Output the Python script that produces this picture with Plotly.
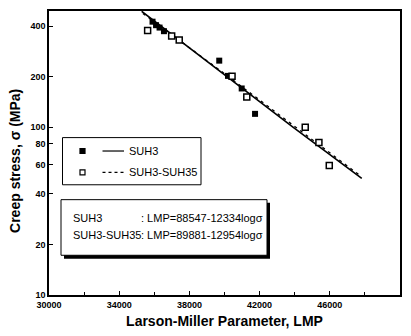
import plotly.graph_objects as go

# Creep rupture data, SUH3 base metal and SUH3-SUH35 joint
suh3_lmp = [35900, 36100, 36300, 36550, 39700, 40200, 40980, 41740]
suh3_stress = [425, 405, 392, 373, 249, 202, 170, 120]

joint_lmp = [35620, 36990, 37420, 40430, 41270, 44600, 45380, 45970]
joint_stress = [376, 349, 331, 201, 151, 100, 81, 59]

# Master curves (fitted)
fit_suh3_lmp = [35280, 40150, 43900, 47820]
fit_suh3_stress = [490, 200, 100, 49.5]
fit_joint_lmp = [35350, 40200, 44000, 47720]
fit_joint_stress = [476, 201, 101, 51.5]

x_ticks = [30000, 34000, 38000, 42000, 46000, 50000]
y_ticks = [10, 20, 40, 60, 80, 100, 200, 400]

legend_names = ["SUH3", "SUH3-SUH35"]
eq_names = ["SUH3", "SUH3-SUH35"]
eq_texts = [": LMP=88547-12334log\u03c3", ": LMP=89881-12954log\u03c3"]

NARROW = "Liberation Sans Narrow, Arial Narrow, sans-serif"
SANS = "Liberation Sans, Arial, sans-serif"

fig = go.Figure()
fig.add_trace(go.Scatter(x=fit_suh3_lmp, y=fit_suh3_stress, mode="lines",
                         line=dict(color="black", width=1.6), showlegend=False))
fig.add_trace(go.Scatter(x=fit_joint_lmp, y=fit_joint_stress, mode="lines",
                         line=dict(color="black", width=1.3, dash="3px,4px"),
                         showlegend=False))
fig.add_trace(go.Scatter(x=suh3_lmp, y=suh3_stress, mode="markers",
                         marker=dict(symbol="square", size=6, color="black"),
                         showlegend=False))
fig.add_trace(go.Scatter(x=joint_lmp, y=joint_stress, mode="markers",
                         marker=dict(symbol="square", size=6, color="white",
                                     line=dict(color="black", width=1.5)),
                         showlegend=False))

# Plot-area pixel geometry helpers for the boxed legend and equations
L, R, T, B = 49, 400, 9, 295
W, H = R - L, B - T


def px(x):
    return (x - L) / W


def py(y):
    return (B - y) / H


shapes = []
# legend box
shapes.append(dict(type="rect", xref="paper", yref="paper",
                   x0=px(62.5), x1=px(201), y0=py(184), y1=py(136.5),
                   line=dict(color="black", width=1), fillcolor="white"))
rows = [150, 171.5]
for i, yy in enumerate(rows):
    filled = i == 0
    shapes.append(dict(type="rect", xref="paper", yref="paper",
                       x0=px(80), x1=px(85), y0=py(yy + 2.5), y1=py(yy - 2.5),
                       line=dict(color="black", width=1.2),
                       fillcolor="black" if filled else "white"))
    shapes.append(dict(type="line", xref="paper", yref="paper",
                       x0=px(102.5), x1=px(124), y0=py(yy), y1=py(yy),
                       line=dict(color="black", width=1.2,
                                 dash="solid" if filled else "3px,3px")))
# equation box with drop shadow
shapes.append(dict(type="rect", xref="paper", yref="paper",
                   x0=px(64), x1=px(270), y0=py(258.5), y1=py(202),
                   line=dict(width=0), fillcolor="black"))
shapes.append(dict(type="rect", xref="paper", yref="paper",
                   x0=px(61), x1=px(267), y0=py(255), y1=py(199),
                   line=dict(color="black", width=1), fillcolor="white"))

annotations = []
for name, yy in zip(legend_names, rows):
    annotations.append(dict(x=px(126.5), y=py(yy), xref="paper", yref="paper",
                            text=name, showarrow=False, xanchor="left",
                            yanchor="middle",
                            font=dict(family=NARROW, size=11, color="black")))
for name, txt, yy in zip(eq_names, eq_texts, [217, 235]):
    annotations.append(dict(x=px(71), y=py(yy), xref="paper", yref="paper",
                            text=name, showarrow=False, xanchor="left",
                            yanchor="middle",
                            font=dict(family=NARROW, size=11, color="black")))
    annotations.append(dict(x=px(138.5), y=py(yy), xref="paper", yref="paper",
                            text=txt, showarrow=False, xanchor="left",
                            yanchor="middle",
                            font=dict(family=NARROW, size=11, color="black")))
# y-axis title, placed to sit slightly below the plot-area centre
annotations.append(dict(x=px(15), y=py(160), xref="paper", yref="paper",
                        text="<b>Creep stress, \u03c3 (MPa)</b>", textangle=-90,
                        showarrow=False, xanchor="center", yanchor="middle",
                        font=dict(family=SANS, size=14, color="black")))

fig.update_layout(
    width=411, height=336,
    margin=dict(l=L, r=411 - R, t=T, b=336 - B),
    paper_bgcolor="white", plot_bgcolor="white",
    shapes=shapes, annotations=annotations,
    xaxis=dict(range=[30000, 50000], tickvals=x_ticks,
               ticktext=[str(v) for v in x_ticks],
               ticks="inside", ticklen=4, tickwidth=1, tickcolor="black",
               minor=dict(dtick=2000, ticks="inside", ticklen=3,
                          tickcolor="black"),
               showgrid=False, zeroline=False,
               showline=True, linecolor="black", linewidth=1.5, mirror=True,
               tickfont=dict(family=NARROW, size=9, color="black", weight="bold"),
               title=dict(text="<b>Larson-Miller Parameter, LMP</b>",
                          font=dict(family=NARROW, size=14, color="black"),
                          standoff=8)),
    yaxis=dict(type="log", range=[1, 2.692], tickvals=y_ticks,
               ticktext=[str(v) for v in y_ticks],
               ticks="inside", ticklen=4, tickwidth=1, tickcolor="black",
               showgrid=False, zeroline=False,
               showline=True, linecolor="black", linewidth=1.5, mirror=True,
               tickfont=dict(family=NARROW, size=9, color="black", weight="bold")),
)

fig.write_html("out.html")
